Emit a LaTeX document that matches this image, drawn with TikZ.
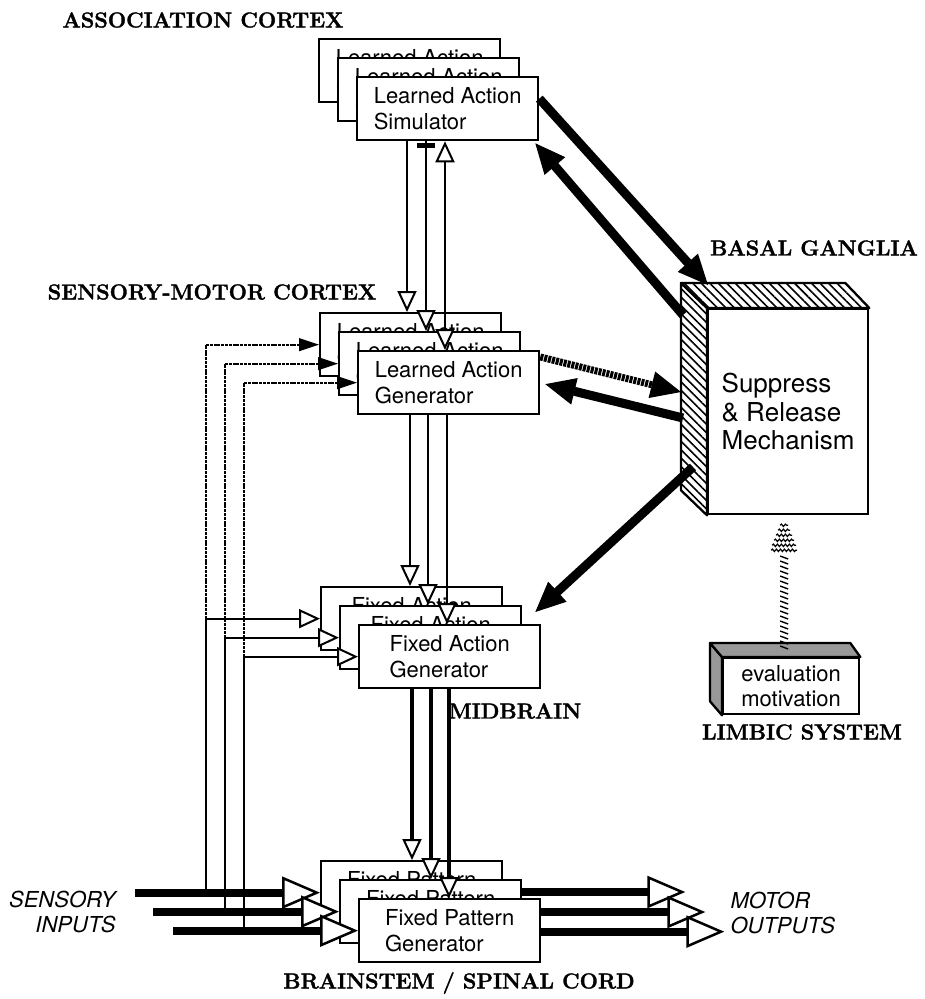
\documentclass[tikz,border=0pt]{standalone}
\usepackage{fontspec}
\newfontfamily\helv{TeX Gyre Heros}
\newfontfamily\heavyserif[FakeBold=1.6]{Latin Modern Roman}
\usetikzlibrary{arrows.meta,calc,patterns.meta,decorations.pathmorphing}
\tikzset{
  otip/.tip={Triangle[length=21pt,width=19pt,fill=white,line width=2pt]},
  bigtip/.tip={Triangle[length=38pt,width=32pt,fill=white,line width=2.5pt]},
  fbtip/.tip={Triangle[length=20pt,width=13pt,line width=1pt]},
  htip/.tip={Triangle[length=30pt,width=27pt,line width=1pt]},
}
\begin{document}
\begin{tikzpicture}[x=1pt,y=-1pt,
  gbox/.style={draw,line width=2.3pt,fill=white,minimum width=181pt,minimum height=63pt,
    anchor=north west,align=left,inner sep=0pt,font=\helv\fontsize{22}{26.5}\selectfont},
  region/.style={font=\heavyserif\bfseries\fontsize{21.6}{24}\selectfont},
  io/.style={font=\helv\itshape\fontsize{22}{25}\selectfont},
  link/.style={line width=2.2pt},
  heavylink/.style={line width=3.5pt},
  fbdot/.style={line width=2.2pt,dash pattern=on 3pt off 0.8pt},
  signal/.style={line width=8pt},
  fat/.style={line width=9pt},
  rough/.style={line width=7pt,dash pattern=on 3pt off 1pt},
  face/.style={line width=2.3pt,line join=round},
]
\useasboundingbox (0,0) rectangle (925,999);

% ---- four stacks of generator boxes ----
\node[gbox] (as1) at (318,38) {Learned Action\\Simulator};
\node[gbox] (as2) at (337,57) {Learned Action\\Simulator};
\node[gbox] (assoc) at (356,76) {Learned Action\\Simulator};

\node[gbox] (sm1) at (319,312) {Learned Action\\Generator};
\node[gbox] (sm2) at (338,331) {Learned Action\\Generator};
\node[gbox] (sm) at (357,350) {Learned Action\\Generator};

\node[gbox] (fa1) at (320,586) {Fixed Action\\Generator};
\node[gbox] (fa2) at (339,605) {Fixed Action\\Generator};
\node[gbox] (fa) at (358,624) {Fixed Action\\Generator};

\node[gbox] (fp1) at (320,860) {Fixed Pattern\\Generator};
\node[gbox] (fp2) at (339,879) {Fixed Pattern\\Generator};
\node[gbox] (fp) at (358,898) {Fixed Pattern\\Generator};

% ---- region labels ----
\node[region] (lassoc) at (203,20) {ASSOCIATION CORTEX};
\node[region] (lsm) at (212,292) {SENSORY-MOTOR CORTEX};
\node[region] (lbasal) at (814,248) {BASAL GANGLIA};
\node[region] (lmid) at (515,711) {MIDBRAIN};
\node[region] (llimbic) at (802,732) {LIMBIC SYSTEM};
\node[region] (lbrain) at (459,983) {BRAINSTEM / SPINAL CORD};

\node[io,align=right,anchor=east] (lin) at (119,912) {SENSORY\\INPUTS};
\node[io,align=left,anchor=west] (lout) at (727,913) {MOTOR\\OUTPUTS};

% ---- basal ganglia block ----
\node[draw,line width=2.3pt,fill=white,minimum width=160pt,minimum height=205pt,
  anchor=north west,inner sep=0pt,align=left,font=\helv\fontsize{26}{28.5}\selectfont]
  (bg) at (707,308) {Suppress\\\& Release\\Mechanism};
\draw[face,pattern={Lines[angle=-45,distance=6pt,line width=1.6pt]}]
  ($(bg.north west)+(-26,-25)$) -- (bg.north west) -- (bg.south west)
  -- ($(bg.south west)+(-26,-25)$) -- cycle;
\draw[face,pattern={Lines[angle=-45,distance=6pt,line width=1.6pt]}]
  ($(bg.north west)+(-26,-25)$) -- ($(bg.north east)+(-24,-25)$)
  -- (bg.north east) -- (bg.north west) -- cycle;

% ---- limbic block ----
\node[draw,line width=2.3pt,fill=white,minimum width=136pt,minimum height=56pt,
  anchor=north west,inner sep=0pt,align=center,font=\helv\fontsize{22}{25}\selectfont]
  (lb) at (722,657) {evaluation\\motivation};
\draw[face,fill=black!40]
  ($(lb.north west)+(-12,-14)$) -- (lb.north west) -- (lb.south west)
  -- ($(lb.south west)+(-12,-14)$) -- cycle;
\draw[face,fill=black!40]
  ($(lb.north west)+(-12,-14)$) -- ($(lb.north east)+(-10,-14)$)
  -- (lb.north east) -- (lb.north west) -- cycle;

% ---- association -> sensory-motor ----
\coordinate (va) at ($(assoc.south west)+(51,0)$);
\coordinate (vb) at ($(assoc.south west)+(70,0)$);
\coordinate (vc) at ($(assoc.south west)+(89,0)$);
\draw[link,-{otip}] (va) -- (va |- sm1.north);
\draw[link,-{otip}] (vb) -- (vb |- sm2.north);
\draw[link,{otip}-{otip}] (vc) -- (vc |- sm.north);
\draw[line width=1.5pt,fill=black] ($(vb)+(-8,2)$) rectangle ($(vb)+(8,6)$);

% ---- sensory-motor -> fixed action ----
\coordinate (wa) at ($(sm.south west)+(53,0)$);
\coordinate (wb) at ($(sm.south west)+(71,0)$);
\coordinate (wc) at ($(sm.south west)+(90,0)$);
\draw[link,-{otip}] (wa) -- (wa |- fa1.north);
\draw[link,-{otip}] (wb) -- (wb |- fa2.north);
\draw[link,-{otip}] (wc) -- (wc |- fa.north);

% ---- fixed action -> fixed pattern ----
\coordinate (ua) at ($(fa.south west)+(54,0)$);
\coordinate (ub) at ($(fa.south west)+(73,0)$);
\coordinate (uc) at ($(fa.south west)+(91,0)$);
\draw[heavylink,-{otip}] (ua) -- (ua |- fp1.north);
\draw[heavylink,-{otip}] (ub) -- (ub |- fp2.north);
\draw[heavylink,-{otip}] (uc) -- (uc |- fp.north);

% ---- sensory inputs and their upward branches ----
\coordinate (in1) at ($(fp1.west)+(-185,0)$);
\coordinate (in2) at ($(fp2.west)+(-186,0)$);
\coordinate (in3) at ($(fp.west)+(-185,0)$);
\coordinate (t1) at ($(fp1.west)+(-114,0)$);
\coordinate (t2) at ($(fp2.west)+(-114,0)$);
\coordinate (t3) at ($(fp.west)+(-114,0)$);

\draw[link] (t1) -- (t1 |- fa1.west);
\draw[link] (t2) -- (t2 |- fa2.west);
\draw[link] (t3) -- (t3 |- fa.west);
\draw[fbdot] (t1 |- fa1.west) -- (t1 |- sm1.west);
\draw[fbdot] (t2 |- fa2.west) -- (t2 |- sm2.west);
\draw[fbdot] (t3 |- fa.west) -- (t3 |- sm.west);
\draw[fbdot,-{fbtip}] (t1 |- sm1.west) -- (sm1.west);
\draw[fbdot,-{fbtip}] (t2 |- sm2.west) -- (sm2.west);
\draw[fbdot,-{fbtip}] (t3 |- sm.west) -- (sm.west);
\draw[link,-{otip}] (t1 |- fa1.west) -- (fa1.west);
\draw[link,-{otip}] (t2 |- fa2.west) -- (fa2.west);
\draw[link,-{otip}] (t3 |- fa.west) -- (fa.west);

\draw[signal,-{bigtip}] (in1) -- (fp1.west);
\draw[signal,-{bigtip}] (in2) -- (fp2.west);
\draw[signal,-{bigtip}] (in3) -- (fp.west);

% ---- motor outputs ----
\coordinate (o1s) at ($(fp2.north east)+(0,13)$);
\coordinate (o2s) at ($(fp.north east)+(0,14)$);
\coordinate (o3s) at ($(fp.east)+(0,1)$);
\coordinate (out1) at ($(o1s)+(163,0)$);
\coordinate (out2) at ($(o2s)+(164,0)$);
\coordinate (out3) at ($(o3s)+(183,0)$);
\draw[signal,-{bigtip}] (o1s) -- (out1);
\draw[signal,-{bigtip}] (o2s) -- (out2);
\draw[signal,-{bigtip}] (o3s) -- (out3);

% ---- links with the basal ganglia ----
\coordinate (h1s) at ($(assoc.east)+(0,-10)$);
\coordinate (h1e) at ($(bg.north west)+(1,-23)$);
\coordinate (h2s) at ($(bg.north west)+(-24,7)$);
\coordinate (h2e) at ($(assoc.south east)+(-4,2)$);
\coordinate (h3s) at ($(sm.north east)+(0,7)$);
\coordinate (h3e) at ($(bg.north west)+(-26,84)$);
\coordinate (h4s) at ($(bg.north west)+(-24,110)$);
\coordinate (h4e) at ($(sm.east)+(5,1.5)$);
\coordinate (h5s) at ($(bg.north west)+(-14,159)$);
\coordinate (h5e) at ($(fa.north east)+(-6,-12)$);
\draw[fat,-{htip}] (h1s) -- (h1e);
\draw[fat,-{htip}] (h2s) -- (h2e);
\draw[rough,-{htip}] (h3s) -- (h3e);
\draw[fat,-{htip}] (h4s) -- (h4e);
\draw[fat,-{htip}] (h5s) -- (h5e);

% ---- limbic drive up to the basal ganglia ----
\coordinate (wv) at ($(lb.north)+(-7,-101)$);
\foreach \k in {0,...,18}
  \draw[line width=1.4pt] ($(wv)+(-4,5*\k)$) -- ++(8,3);
\coordinate (wt) at ($(bg.south)+(-4,7)$);
\foreach \k/\w in {0/4,1/6,2/8,3/10,4/12,5/13}
  \draw[line width=1.2pt,decorate,decoration={snake,amplitude=1.2pt,segment length=4pt}]
    ($(wt)+(-\w,5*\k+3)$) -- ++(2*\w,0);
\end{tikzpicture}
\end{document}
